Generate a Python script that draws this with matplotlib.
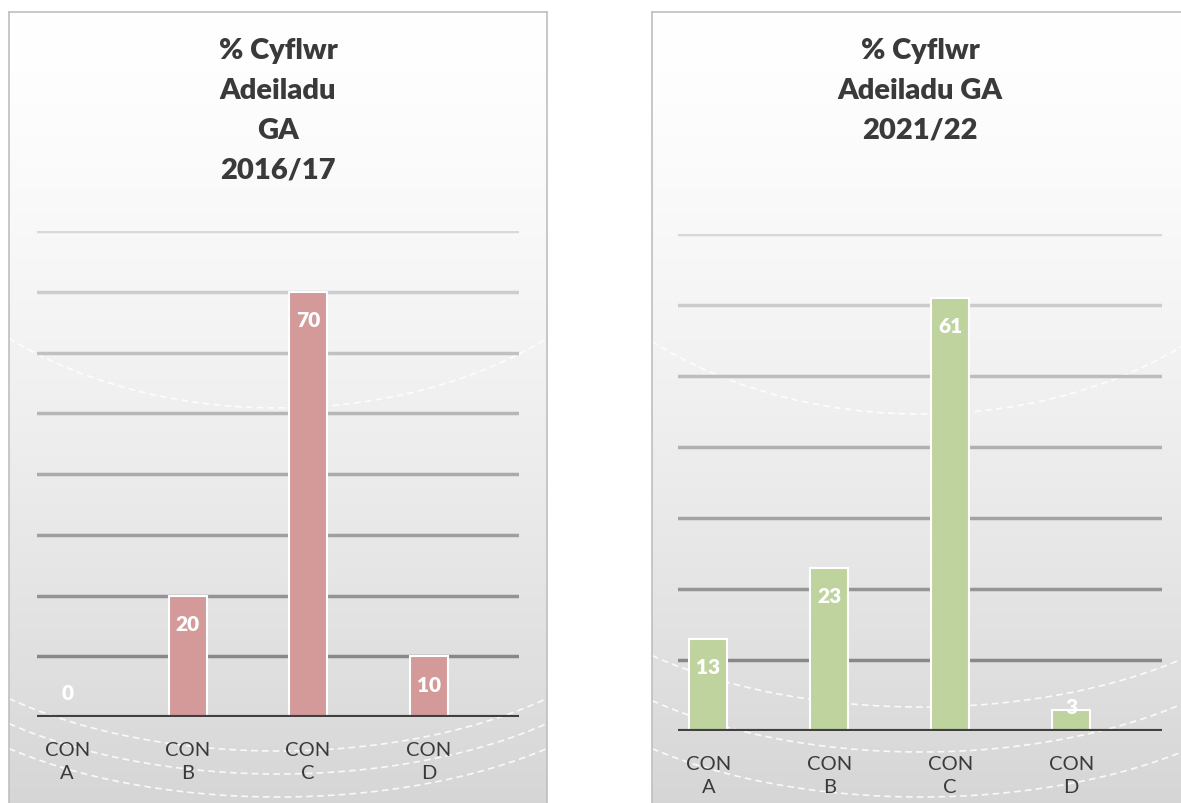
import matplotlib.pyplot as plt
import matplotlib.colors as mcolors
import numpy as np

plt.rcParams['font.family'] = ['Lato', 'DejaVu Sans']

# data
categories = ['CON\nA', 'CON\nB', 'CON\nC', 'CON\nD']
vals_1617 = [0, 20, 70, 10]
vals_2122 = [13, 23, 61, 3]
title_1617 = '% Cyflwr\nAdeiladu\nGA\n2016/17'
title_2122 = '% Cyflwr\nAdeiladu GA\n2021/22'

W, H = 1181, 804
fig = plt.figure(figsize=(W / 100, H / 100), dpi=100)
fig.patch.set_facecolor('white')

text_col = '#3A3A3A'


def px_axes(x0, y0, x1, y1, **kw):
    # pixel box (top-left origin) -> figure axes
    return fig.add_axes([x0 / W, (H - y1) / H, (x1 - x0) / W, (y1 - y0) / H], **kw)


def panel_bg(x0, y0, x1, cx, arcs):
    y1 = H + 40
    bg = px_axes(x0, y0, x1, y1)
    t = np.linspace(0, 1, 256) ** 1.4
    c0 = np.array(mcolors.to_rgb('#FFFFFF'))
    c1 = np.array(mcolors.to_rgb('#D3D3D3'))
    grad = c0[None, :] * (1 - t[:, None]) + c1[None, :] * t[:, None]
    bg.imshow(grad[:, None, :], aspect='auto', extent=[x0, x1, y1, y0])
    bg.set_xlim(x0, x1)
    bg.set_ylim(y1, y0)
    # faint bowl-shaped dashed arcs of the chart style (decoration only)
    a = 400.0
    xx = np.linspace(x0, x1, 300)
    for bottom, drop in arcs:
        b = drop / (1 - np.sqrt(1 - (268 / a) ** 2))
        yy = bottom - b + b * np.sqrt(np.clip(1 - ((xx - cx) / a) ** 2, 0, 1))
        bg.plot(xx, yy, color='white', lw=1.2, ls=(0, (4, 2.5)), alpha=0.85)
    bg.set_xticks([])
    bg.set_yticks([])
    for sp in bg.spines.values():
        sp.set_color('#BFBFBF')
        sp.set_linewidth(1.2)
    bg.spines['bottom'].set_visible(False)
    bg.set_zorder(0)
    return bg


def bar_panel(box, vals, color, ymax, title, title_xy):
    ax = px_axes(*box)
    ax.set_zorder(1)
    ax.patch.set_alpha(0)
    x = np.arange(len(categories))
    ax.set_xlim(-0.25, len(categories) - 0.25)
    ax.set_ylim(0, ymax)
    ticks = np.arange(10, ymax + 1, 10)
    g0 = np.array(mcolors.to_rgb('#D8D8D8'))
    g1 = np.array(mcolors.to_rgb('#888888'))
    for i, tk in enumerate(ticks):
        f = 1 - i / max(len(ticks) - 1, 1)
        ax.axhline(tk, color=g0 * (1 - f) + g1 * f, lw=2.5, zorder=1)
    ax.bar(x, vals, width=0.315, color=color, edgecolor='white', lw=1.5, zorder=2)
    ax.axhline(0, color='#404040', lw=3, zorder=3)
    for s in ax.spines.values():
        s.set_visible(False)
    ax.set_yticks([])
    ax.set_xticks(x)
    ax.set_xticklabels(categories, fontsize=14.5, color=text_col, linespacing=1.45)
    ax.tick_params(axis='x', length=0, pad=17)

    # data labels inside the bar end, pushed up for short bars
    ppu = (box[3] - box[1]) / ymax
    for xi, v in zip(x, vals):
        hpx = v * ppu
        off = -min(28, hpx - 24)
        ax.annotate(str(v), (xi, v), xytext=(0, off), textcoords='offset pixels',
                    ha='center', va='center', fontsize=15, fontweight='heavy',
                    color='white', zorder=4)

    fig.text(title_xy[0] / W, 1 - title_xy[1] / H, title, ha='center', va='top',
             fontsize=21, fontweight='heavy', color=text_col, linespacing=1.66)
    return ax


panel_bg(9, 13, 547, 278, [(409, 69), (752, 52), (775, 50), (798, 48)])
panel_bg(652, 13, 1200, 921, [(415, 72), (708, 51), (753, 51), (798, 48)])

bar_panel((37, 232, 519, 718), vals_1617, '#D49A9A', 80, title_1617, (278, 38))
bar_panel((678, 235, 1162, 732), vals_2122, '#BFD39E', 70, title_2122, (920, 38))

fig.savefig('out.png', dpi=100)
